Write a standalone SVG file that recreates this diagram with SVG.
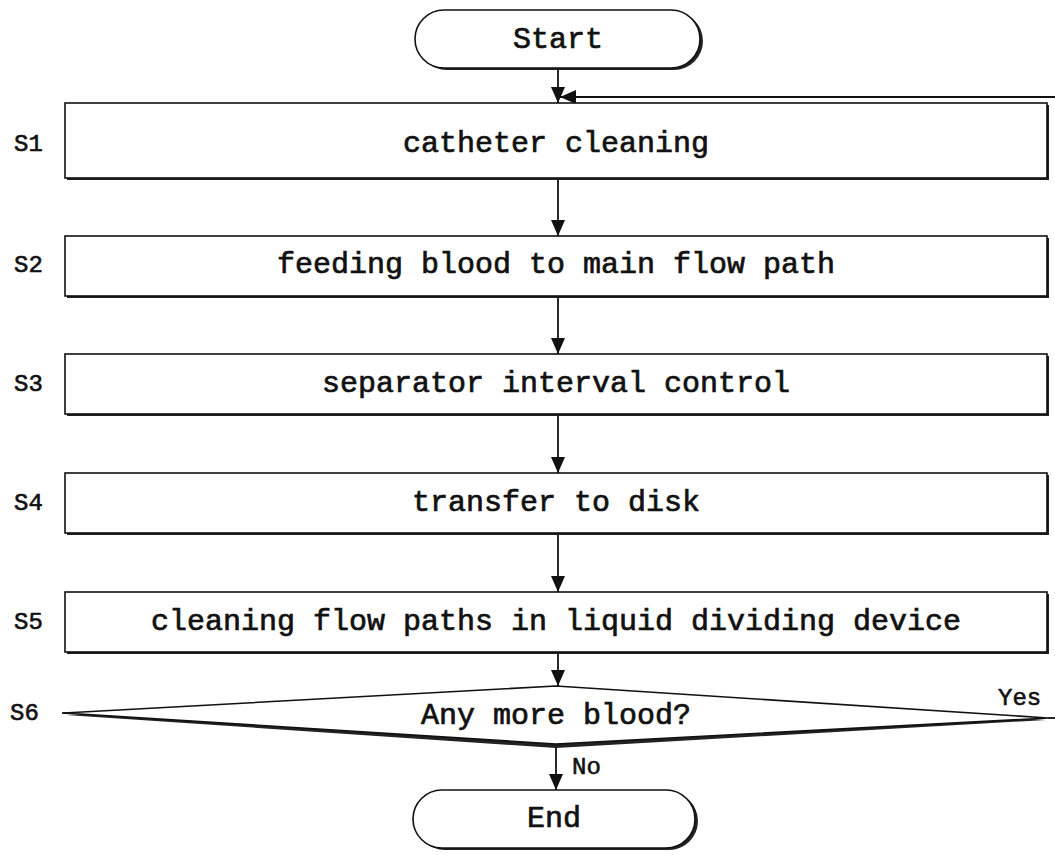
<svg xmlns="http://www.w3.org/2000/svg" width="1055" height="856" viewBox="0 0 1055 856">
<defs>
<style>
.box{fill:#fff;stroke:#111;stroke-width:1.6}
.sh{fill:#222;stroke:none}
.t{font-family:"Liberation Mono","Courier New",monospace;font-size:30px;fill:#111;stroke:#111;stroke-width:0.7;text-anchor:middle;dominant-baseline:central}
.lbl{font-family:"Liberation Mono","Courier New",monospace;font-size:24px;fill:#111;stroke:#111;stroke-width:0.6;dominant-baseline:central}
.c{stroke:#111;stroke-width:1.8;fill:none}
</style>
<marker id="ah" viewBox="0 0 16 14" refX="16" refY="7" markerWidth="16" markerHeight="14" markerUnits="userSpaceOnUse" orient="auto">
<path d="M0,0 L16,7 L0,14 Z" fill="#111"/>
</marker>
</defs>
<rect width="1055" height="856" fill="#fff"/>

<g id="connectors">
<line class="c" x1="558" y1="68" x2="558" y2="103" marker-end="url(#ah)"/>
<line class="c" x1="558" y1="178" x2="558" y2="236" marker-end="url(#ah)"/>
<line class="c" x1="558" y1="296" x2="558" y2="354" marker-end="url(#ah)"/>
<line class="c" x1="558" y1="414" x2="558" y2="473" marker-end="url(#ah)"/>
<line class="c" x1="558" y1="533" x2="558" y2="592" marker-end="url(#ah)"/>
<line class="c" x1="558" y1="652" x2="558" y2="686" marker-end="url(#ah)"/>
<line class="c" x1="556" y1="745" x2="556" y2="790" marker-end="url(#ah)"/>
<line class="c" x1="1048" y1="718" x2="1055" y2="718"/>
<line class="c" x1="1055" y1="97" x2="560" y2="97" marker-end="url(#ah)"/>
<line class="c" x1="62" y1="713" x2="72" y2="713"/>
<text class="lbl" x="998" y="698">Yes</text>
<text class="lbl" x="572" y="767">No</text>
</g>

<g id="start">
<rect class="sh" x="418" y="12" width="285" height="58" rx="29"/>
<rect class="box" x="415" y="10" width="285" height="58" rx="29"/>
<text class="t" x="558" y="40">Start</text>
</g>

<g id="s1">
<rect class="sh" x="67" y="105" width="982" height="75"/>
<rect class="box" x="65" y="103" width="982" height="75"/>
<text class="t" x="556" y="144">catheter cleaning</text>
<text class="lbl" x="14" y="144">S1</text>
</g>

<g id="s2">
<rect class="sh" x="67" y="238" width="982" height="60"/>
<rect class="box" x="65" y="236" width="982" height="60"/>
<text class="t" x="556" y="265">feeding blood to main flow path</text>
<text class="lbl" x="14" y="265">S2</text>
</g>

<g id="s3">
<rect class="sh" x="67" y="356" width="982" height="60"/>
<rect class="box" x="65" y="354" width="982" height="60"/>
<text class="t" x="556" y="384">separator interval control</text>
<text class="lbl" x="14" y="384">S3</text>
</g>

<g id="s4">
<rect class="sh" x="67" y="475" width="982" height="60"/>
<rect class="box" x="65" y="473" width="982" height="60"/>
<text class="t" x="556" y="503">transfer to disk</text>
<text class="lbl" x="14" y="503">S4</text>
</g>

<g id="s5">
<rect class="sh" x="67" y="594" width="982" height="60"/>
<rect class="box" x="65" y="592" width="982" height="60"/>
<text class="t" x="556" y="622">cleaning flow paths in liquid dividing device</text>
<text class="lbl" x="14" y="622">S5</text>
</g>

<g id="s6">
<polygon class="sh" points="66,715 556,689 1046,720 556,748"/>
<polygon class="box" points="64,713 556,686 1048,718 556,744"/>
<text class="t" x="556" y="716">Any more blood?</text>
<text class="lbl" x="10" y="713">S6</text>
</g>

<g id="end">
<rect class="sh" x="416" y="792" width="282" height="58" rx="29"/>
<rect class="box" x="413" y="790" width="282" height="58" rx="29"/>
<text class="t" x="554" y="819">End</text>
</g>
</svg>
